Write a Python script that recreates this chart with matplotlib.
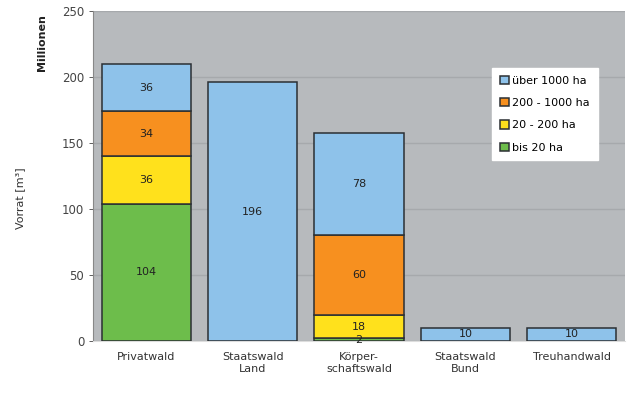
import numpy as np
import matplotlib.pyplot as plt

categories = ["Privatwald", "Staatswald\nLand", "Körper-\nschaftswald", "Staatswald\nBund", "Treuhandwald"]
classes = ["bis 20 ha", "20 - 200 ha", "200 - 1000 ha", "über 1000 ha"]
bis_20 = [104, 0, 2, 0, 0]
ha_20_200 = [36, 0, 18, 0, 0]
ha_200_1000 = [34, 0, 60, 0, 0]
ueber_1000 = [36, 196, 78, 10, 10]
colors = ["#6dbd4b", "#ffe11c", "#f7901f", "#8ec2ea"]

series = [bis_20, ha_20_200, ha_200_1000, ueber_1000]

fig = plt.figure(figsize=(6.3, 3.97), dpi=100)
ax = fig.add_axes([0.148, 0.141, 0.844, 0.831])
ax.set_facecolor("#b7babd")

x = np.arange(len(categories))
bottom = np.zeros(len(categories))
handles = []
for name, vals, col in zip(classes, series, colors):
    vals = np.array(vals, dtype=float)
    bars = ax.bar(x, vals, 0.84, bottom=bottom, color=col, edgecolor="#2b2f33",
                  linewidth=1.1, label=name, zorder=3)
    for xi, b, v in zip(x, bottom, vals):
        if v > 0:
            ax.text(xi, b + v / 2, f"{int(v)}", ha="center", va="center",
                    fontsize=8, color="#222222", zorder=4)
    bottom += vals
    handles.append(bars)

ax.set_xlim(-0.5, len(categories) - 0.5)
ax.set_ylim(0, 250)
ax.set_yticks(np.arange(0, 251, 50))
ax.yaxis.grid(True, color="#a6a9ac", linewidth=1.0, zorder=1)
ax.set_axisbelow(True)
ax.set_xticks(x)
ax.set_xticklabels(categories, fontsize=8, color="#333333")
ax.tick_params(axis="x", length=0, pad=8)
ax.tick_params(axis="y", labelsize=8.5, colors="#444444", length=3, width=0.6)
for s in ["top", "right"]:
    ax.spines[s].set_visible(False)
ax.spines["left"].set_color("#888888")
ax.spines["bottom"].set_color("#dddddd")

fig.text(0.032, 0.50, "Vorrat [m³]", rotation=90, ha="center", va="center",
         fontsize=8, color="#333333")
fig.text(0.067, 0.965, "Millionen", rotation=90, ha="center", va="top",
         fontsize=8, fontweight="bold", color="#222222")

leg = ax.legend(handles[::-1], classes[::-1], loc="upper left",
                bbox_to_anchor=(0.74, 0.845), fontsize=8, frameon=True,
                fancybox=False, edgecolor="white", facecolor="white",
                framealpha=1.0, handlelength=0.8, handleheight=0.8,
                handletextpad=0.3, labelspacing=1.1, borderpad=0.7)
leg.set_zorder(5)

fig.savefig("out.png", dpi=100)
